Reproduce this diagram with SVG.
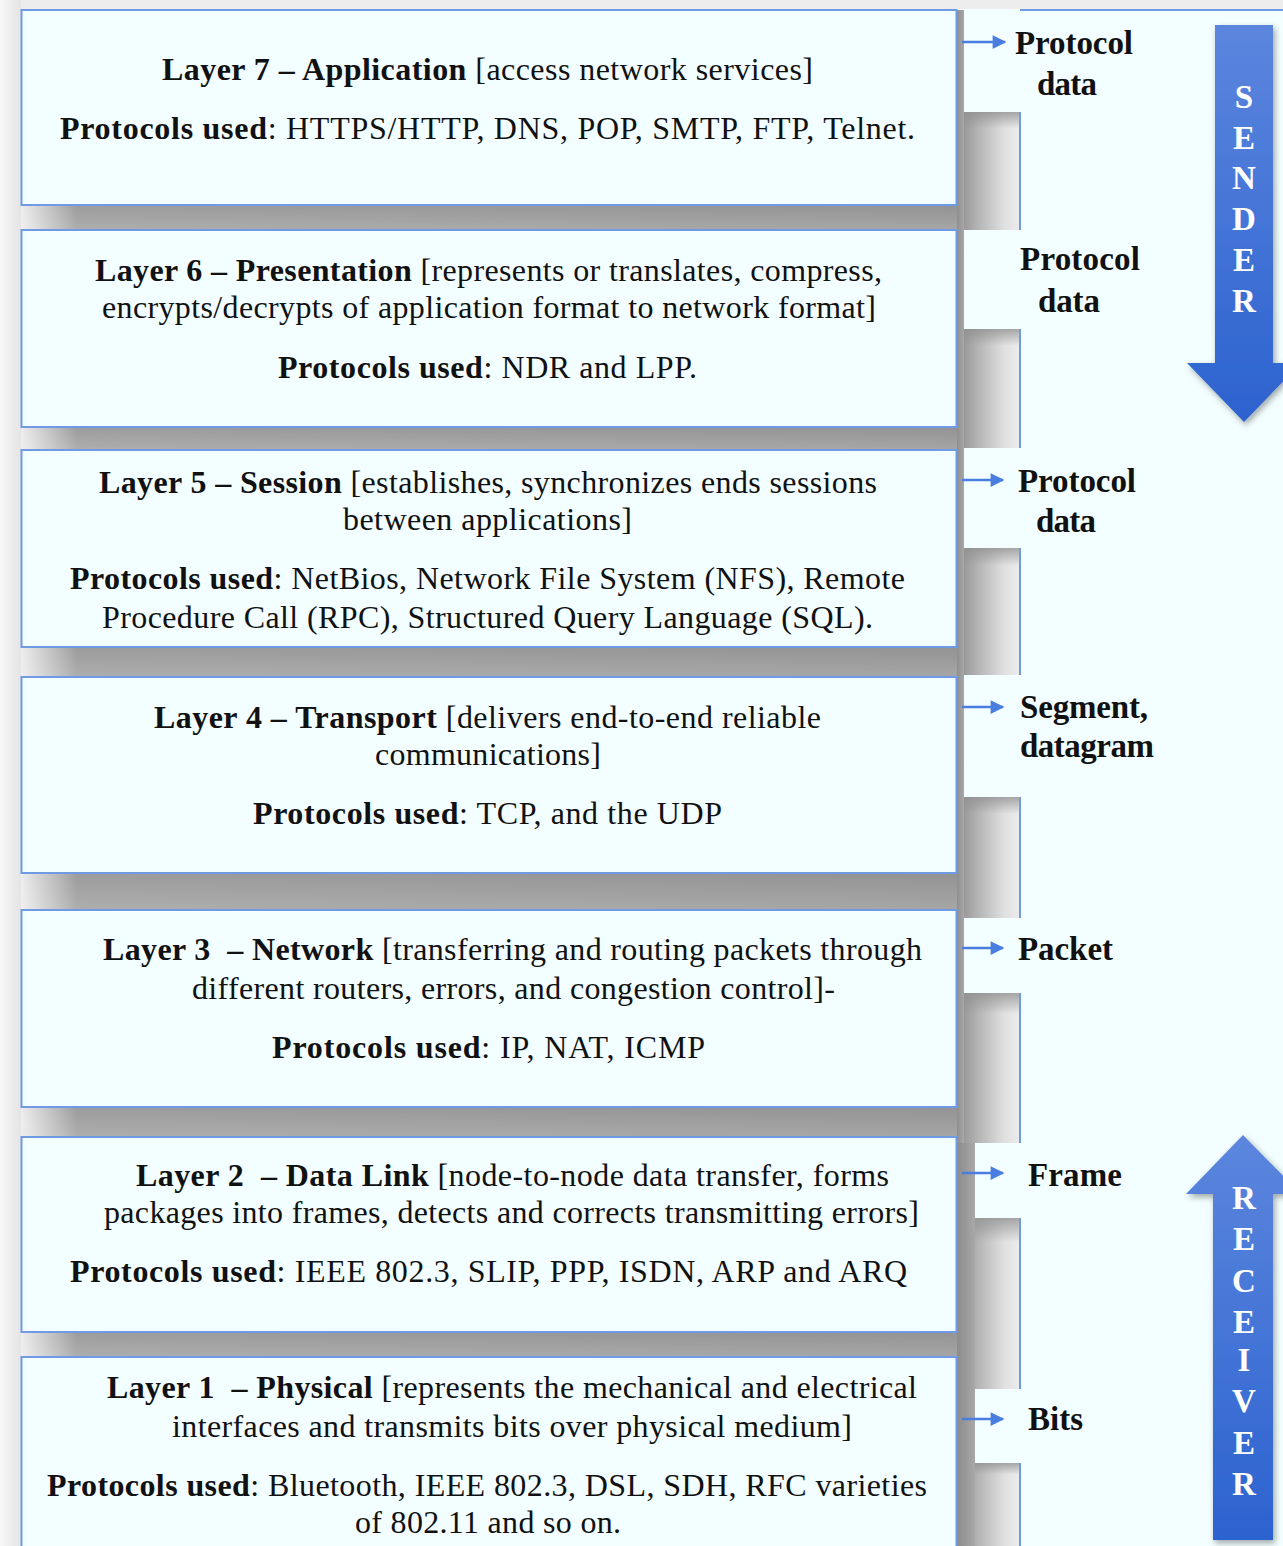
<svg xmlns="http://www.w3.org/2000/svg" width="1283" height="1546" viewBox="0 0 1283 1546">
  <style>
    .box { fill: #F2FEFF; stroke: #6F9AE6; stroke-width: 2; }
    .txt { font-family: "Liberation Serif", "Times New Roman", serif; font-size: 32px; fill: #111; }
    .b { font-weight: bold; }
    .lbl { font-family: "Liberation Serif", "Times New Roman", serif; font-size: 33px; font-weight: bold; fill: #111; }
    .big { font-family: "Liberation Serif", "Times New Roman", serif; font-size: 33px; font-weight: bold; fill: #ffffff; text-anchor: middle; }
    .edge { stroke: #6F9AE6; stroke-width: 2; fill: none; }
    .conn { stroke: #4A7DE0; stroke-width: 2.5; fill: none; }
  </style>
  <defs>
    <linearGradient id="shadeR" x1="0" y1="0" x2="1" y2="0">
      <stop offset="0" stop-color="#8C8C8C"/>
      <stop offset="0.35" stop-color="#B6B6B6"/>
      <stop offset="0.75" stop-color="#E0E0E0"/>
      <stop offset="1" stop-color="#ECECEC"/>
    </linearGradient>
    <linearGradient id="shadeTop" x1="0" y1="0" x2="0" y2="1">
      <stop offset="0" stop-color="#8F8F8F" stop-opacity="0.75"/>
      <stop offset="0.14" stop-color="#8F8F8F" stop-opacity="0"/>
    </linearGradient>
    <linearGradient id="strip" x1="0" y1="0" x2="1" y2="0">
      <stop offset="0" stop-color="#8A8A8A"/>
      <stop offset="1" stop-color="#A8A8A8"/>
    </linearGradient>
    <linearGradient id="band" gradientUnits="userSpaceOnUse" x1="21" y1="0" x2="957" y2="0">
      <stop offset="0" stop-color="#EDEDED"/>
      <stop offset="0.06" stop-color="#9C9C9C"/>
      <stop offset="1" stop-color="#939393"/>
    </linearGradient>
    <linearGradient id="bandV" x1="0" y1="0" x2="0" y2="1">
      <stop offset="0" stop-color="#ffffff" stop-opacity="0"/>
      <stop offset="1" stop-color="#ffffff" stop-opacity="0.18"/>
    </linearGradient>
    <linearGradient id="leftEdge" x1="0" y1="0" x2="1" y2="0">
      <stop offset="0" stop-color="#F7F7F7"/>
      <stop offset="1" stop-color="#E4E4E4"/>
    </linearGradient>
    <linearGradient id="arrowFill" x1="0" y1="0" x2="0" y2="1">
      <stop offset="0" stop-color="#5C86DE"/>
      <stop offset="1" stop-color="#2C62CF"/>
    </linearGradient>
    <filter id="soft" x="-30%" y="-10%" width="160%" height="120%">
      <feDropShadow dx="2" dy="3" stdDeviation="3" flood-color="#000" flood-opacity="0.35"/>
    </filter>
    <marker id="head" viewBox="0 0 10 10" refX="9" refY="5" markerWidth="6" markerHeight="5.5" markerUnits="strokeWidth" orient="auto">
      <path d="M0,0 L10,5 L0,10 Z" fill="#4A7DE0"/>
    </marker>
  </defs>

  <!-- page background and edges -->
  <rect x="0" y="0" width="1283" height="1546" fill="#F2FEFF"/>
  <rect x="0" y="0" width="1283" height="9" fill="#EDEDED"/>
  <rect x="0" y="0" width="21" height="1546" fill="url(#leftEdge)"/>
  <line x1="1020" y1="10" x2="1283" y2="10" class="edge"/>

  <!-- shaded column to the right of the layer boxes -->
  <g id="side-shading">
    <g>
      <rect x="957" y="112" width="63" height="118" fill="url(#shadeR)"/>
      <rect x="957" y="112" width="63" height="118" fill="url(#shadeTop)"/>
      <rect x="957" y="329" width="63" height="119" fill="url(#shadeR)"/>
      <rect x="957" y="329" width="63" height="119" fill="url(#shadeTop)"/>
      <rect x="957" y="548" width="63" height="127" fill="url(#shadeR)"/>
      <rect x="957" y="548" width="63" height="127" fill="url(#shadeTop)"/>
      <rect x="957" y="797" width="63" height="121" fill="url(#shadeR)"/>
      <rect x="957" y="797" width="63" height="121" fill="url(#shadeTop)"/>
      <rect x="957" y="993" width="63" height="150" fill="url(#shadeR)"/>
      <rect x="957" y="993" width="63" height="150" fill="url(#shadeTop)"/>
      <rect x="957" y="1218" width="63" height="171" fill="url(#shadeR)"/>
      <rect x="957" y="1218" width="63" height="171" fill="url(#shadeTop)"/>
      <rect x="957" y="1463" width="63" height="83" fill="url(#shadeR)"/>
      <rect x="957" y="1463" width="63" height="83" fill="url(#shadeTop)"/>
    </g>
    <g>
      <rect x="956" y="10" width="8" height="1133" fill="url(#strip)"/>
      <rect x="956" y="1143" width="19" height="403" fill="url(#strip)"/>
    </g>
    <g>
      <line x1="1020" y1="112" x2="1020" y2="230" class="edge"/>
      <line x1="1020" y1="329" x2="1020" y2="448" class="edge"/>
      <line x1="1020" y1="548" x2="1020" y2="675" class="edge"/>
      <line x1="1020" y1="797" x2="1020" y2="918" class="edge"/>
      <line x1="1020" y1="993" x2="1020" y2="1143" class="edge"/>
      <line x1="1020" y1="1218" x2="1020" y2="1389" class="edge"/>
      <line x1="1020" y1="1463" x2="1020" y2="1546" class="edge"/>
    </g>
  </g>

  <!-- shadow bands between layer boxes -->
  <g id="bands">
    <rect x="21" y="205" width="936" height="25" fill="url(#band)"/>
    <rect x="21" y="427" width="936" height="23" fill="url(#band)"/>
    <rect x="21" y="647" width="936" height="30" fill="url(#band)"/>
    <rect x="21" y="873" width="936" height="37" fill="url(#band)"/>
    <rect x="21" y="1107" width="936" height="30" fill="url(#band)"/>
    <rect x="21" y="1332" width="936" height="25" fill="url(#band)"/>
    <rect x="21" y="205" width="936" height="25" fill="url(#bandV)"/>
    <rect x="21" y="427" width="936" height="23" fill="url(#bandV)"/>
    <rect x="21" y="647" width="936" height="30" fill="url(#bandV)"/>
    <rect x="21" y="873" width="936" height="37" fill="url(#bandV)"/>
    <rect x="21" y="1107" width="936" height="30" fill="url(#bandV)"/>
    <rect x="21" y="1332" width="936" height="25" fill="url(#bandV)"/>
  </g>

  <!-- Layer 7 -->
  <g id="layer7">
    <rect class="box" x="21.5" y="10" width="935" height="195"/>
    <text class="txt" x="162" y="80" textLength="651" lengthAdjust="spacing"><tspan class="b">Layer 7 – Application</tspan> [access network services]</text>
    <text class="txt" x="60" y="139" textLength="855" lengthAdjust="spacing"><tspan class="b">Protocols used</tspan>: HTTPS/HTTP, DNS, POP, SMTP, FTP, Telnet.</text>
  </g>

  <!-- Layer 6 -->
  <g id="layer6">
    <rect class="box" x="21.5" y="230" width="935" height="197"/>
    <text class="txt" x="95" y="281" textLength="787" lengthAdjust="spacing"><tspan class="b">Layer 6 – Presentation</tspan> [represents or translates, compress,</text>
    <text class="txt" x="102" y="318" textLength="774" lengthAdjust="spacing">encrypts/decrypts of application format to network format]</text>
    <text class="txt" x="278" y="378" textLength="419" lengthAdjust="spacing"><tspan class="b">Protocols used</tspan>: NDR and LPP.</text>
  </g>

  <!-- Layer 5 -->
  <g id="layer5">
    <rect class="box" x="21.5" y="450" width="935" height="197"/>
    <text class="txt" x="99" y="493" textLength="778" lengthAdjust="spacing"><tspan class="b">Layer 5 – Session</tspan> [establishes, synchronizes ends sessions</text>
    <text class="txt" x="343" y="530" textLength="289" lengthAdjust="spacing">between applications]</text>
    <text class="txt" x="70" y="589" textLength="835" lengthAdjust="spacing"><tspan class="b">Protocols used</tspan>: NetBios, Network File System (NFS), Remote</text>
    <text class="txt" x="102" y="628" textLength="771" lengthAdjust="spacing">Procedure Call (RPC), Structured Query Language (SQL).</text>
  </g>

  <!-- Layer 4 -->
  <g id="layer4">
    <rect class="box" x="21.5" y="677" width="935" height="196"/>
    <text class="txt" x="154" y="728" textLength="667" lengthAdjust="spacing"><tspan class="b">Layer 4 – Transport</tspan> [delivers end-to-end reliable</text>
    <text class="txt" x="375" y="765" textLength="226" lengthAdjust="spacing">communications]</text>
    <text class="txt" x="253" y="824" textLength="469" lengthAdjust="spacing"><tspan class="b">Protocols used</tspan>: TCP, and the UDP</text>
  </g>

  <!-- Layer 3 -->
  <g id="layer3">
    <rect class="box" x="21.5" y="910" width="935" height="197"/>
    <text class="txt" x="103" y="960" textLength="819" lengthAdjust="spacing" xml:space="preserve"><tspan class="b">Layer 3  – Network</tspan> [transferring and routing packets through</text>
    <text class="txt" x="192" y="999" textLength="643" lengthAdjust="spacing">different routers, errors, and congestion control]-</text>
    <text class="txt" x="272" y="1058" textLength="433" lengthAdjust="spacing"><tspan class="b">Protocols used</tspan>: IP, NAT, ICMP</text>
  </g>

  <!-- Layer 2 -->
  <g id="layer2">
    <rect class="box" x="21.5" y="1137" width="935" height="195"/>
    <text class="txt" x="136" y="1186" textLength="753" lengthAdjust="spacing" xml:space="preserve"><tspan class="b">Layer 2  – Data Link</tspan> [node-to-node data transfer, forms</text>
    <text class="txt" x="104" y="1223" textLength="815" lengthAdjust="spacing">packages into frames, detects and corrects transmitting errors]</text>
    <text class="txt" x="70" y="1282" textLength="837" lengthAdjust="spacing"><tspan class="b">Protocols used</tspan>: IEEE 802.3, SLIP, PPP, ISDN, ARP and ARQ</text>
  </g>

  <!-- Layer 1 -->
  <g id="layer1">
    <rect class="box" x="21.5" y="1357" width="935" height="200"/>
    <text class="txt" x="107" y="1398" textLength="810" lengthAdjust="spacing" xml:space="preserve"><tspan class="b">Layer 1  – Physical</tspan> [represents the mechanical and electrical</text>
    <text class="txt" x="172" y="1437" textLength="680" lengthAdjust="spacing">interfaces and transmits bits over physical medium]</text>
    <text class="txt" x="47" y="1496" textLength="880" lengthAdjust="spacing"><tspan class="b">Protocols used</tspan>: Bluetooth, IEEE 802.3, DSL, SDH, RFC varieties</text>
    <text class="txt" x="355" y="1533" textLength="266" lengthAdjust="spacing">of 802.11 and so on.</text>
  </g>

  <!-- data unit labels -->
  <g id="pdu7">
    <text class="lbl" x="1015" y="54" textLength="118" lengthAdjust="spacing">Protocol</text>
    <text class="lbl" x="1037" y="95" textLength="60" lengthAdjust="spacing">data</text>
  </g>
  <g id="pdu6">
    <text class="lbl" x="1020" y="270" textLength="120" lengthAdjust="spacing">Protocol</text>
    <text class="lbl" x="1038" y="312" textLength="62" lengthAdjust="spacing">data</text>
  </g>
  <g id="pdu5">
    <text class="lbl" x="1018" y="492" textLength="118" lengthAdjust="spacing">Protocol</text>
    <text class="lbl" x="1036" y="532" textLength="60" lengthAdjust="spacing">data</text>
  </g>
  <g id="pdu4">
    <text class="lbl" x="1020" y="718" textLength="128" lengthAdjust="spacing">Segment,</text>
    <text class="lbl" x="1020" y="757" textLength="134" lengthAdjust="spacing">datagram</text>
  </g>
  <g id="pdu3">
    <text class="lbl" x="1018" y="960" textLength="95" lengthAdjust="spacing">Packet</text>
  </g>
  <g id="pdu2">
    <text class="lbl" x="1028" y="1186" textLength="94" lengthAdjust="spacing">Frame</text>
  </g>
  <g id="pdu1">
    <text class="lbl" x="1028" y="1430" textLength="55" lengthAdjust="spacing">Bits</text>
  </g>

  <!-- connectors from each layer to its data unit -->
  <g id="connectors">
    <line class="conn" x1="962" y1="42" x2="1005" y2="42" marker-end="url(#head)"/>
    <line class="conn" x1="962" y1="480" x2="1003" y2="480" marker-end="url(#head)"/>
    <line class="conn" x1="962" y1="707" x2="1003" y2="707" marker-end="url(#head)"/>
    <line class="conn" x1="962" y1="948" x2="1003" y2="948" marker-end="url(#head)"/>
    <line class="conn" x1="962" y1="1173" x2="1003" y2="1173" marker-end="url(#head)"/>
    <line class="conn" x1="962" y1="1419" x2="1003" y2="1419" marker-end="url(#head)"/>
  </g>

  <!-- direction arrows -->
  <g id="sender">
    <path d="M1215,25 H1273 V363 H1301 L1244,422 L1187,363 H1215 Z" fill="url(#arrowFill)" filter="url(#soft)"/>
    <text class="big" x="1244" y="108">S</text>
    <text class="big" x="1244" y="149">E</text>
    <text class="big" x="1244" y="189">N</text>
    <text class="big" x="1244" y="230">D</text>
    <text class="big" x="1244" y="271">E</text>
    <text class="big" x="1244" y="312">R</text>
  </g>
  <g id="receiver">
    <path d="M1243,1135 L1301,1194 H1273 V1540 H1213 V1194 H1186 Z" fill="url(#arrowFill)" filter="url(#soft)"/>
    <text class="big" x="1244" y="1209">R</text>
    <text class="big" x="1244" y="1250">E</text>
    <text class="big" x="1244" y="1292">C</text>
    <text class="big" x="1244" y="1333">E</text>
    <text class="big" x="1244" y="1371">I</text>
    <text class="big" x="1244" y="1412">V</text>
    <text class="big" x="1244" y="1454">E</text>
    <text class="big" x="1244" y="1495">R</text>
  </g>
</svg>
